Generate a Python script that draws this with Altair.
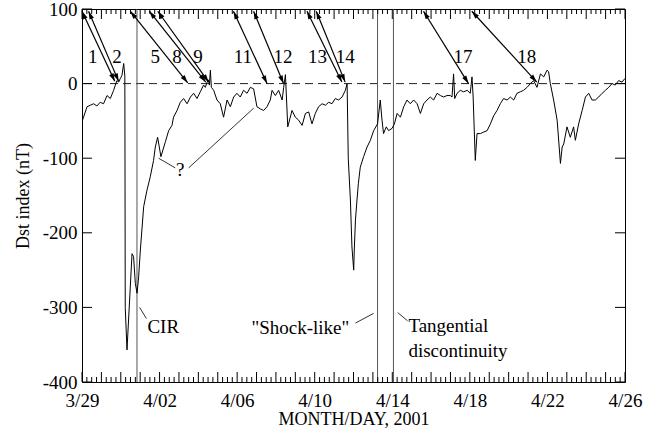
import math
import json
import numpy as np
import pandas as pd
import altair as alt

# ---------------- data ----------------
# time: days since 2001-03-29 00 UT ; Dst in nT
t_day = [0.00, 0.08, 0.26, 0.43, 0.60, 0.77, 0.94, 1.11, 1.29, 1.46, 1.63, 1.72, 1.80, 1.89,
         1.98, 2.06, 2.15, 2.21, 2.23, 2.32, 2.58, 2.66, 2.75, 2.84, 2.92, 3.01, 3.18, 3.35,
         3.52, 3.69, 3.78, 3.90, 4.07, 4.30, 4.47, 4.64, 4.72, 4.90, 5.07, 5.24, 5.42, 5.59,
         5.76, 5.93, 6.10, 6.27, 6.36, 6.45, 6.53, 6.57, 6.62, 6.67, 6.79, 6.96, 7.13, 7.30,
         7.48, 7.65, 7.82, 7.99, 8.16, 8.33, 8.51, 8.68, 8.85, 9.02, 9.20, 9.37, 9.54, 9.71,
         9.80, 9.97, 10.14, 10.32, 10.40, 10.49, 10.61, 10.83, 11.00, 11.17, 11.35, 11.52,
         11.69, 11.86, 12.03, 12.20, 12.38, 12.55, 12.72, 12.89, 13.06, 13.23, 13.41, 13.58,
         13.67, 13.73, 13.84, 13.92, 14.01, 14.04, 14.10, 14.18, 14.25, 14.35, 14.52, 14.70,
         14.87, 15.04, 15.24, 15.38, 15.47, 15.55, 15.69, 15.81, 15.99, 16.11, 16.25, 16.42,
         16.59, 16.76, 16.93, 17.10, 17.28, 17.45, 17.62, 17.79, 17.96, 18.13, 18.31, 18.48,
         18.65, 18.82, 18.99, 19.08, 19.16, 19.22, 19.34, 19.51, 19.68, 19.86, 20.02, 20.11,
         20.17, 20.28, 20.37, 20.54, 20.71, 20.89, 21.06, 21.23, 21.40, 21.57, 21.74, 21.92,
         22.09, 22.26, 22.43, 22.60, 22.77, 22.95, 23.12, 23.29, 23.46, 23.64, 23.81, 23.98,
         24.06, 24.15, 24.32, 24.50, 24.67, 24.76, 24.84, 25.01, 25.18, 25.35, 25.44, 25.61,
         25.79, 25.96, 26.13, 26.30, 26.47, 26.64, 26.82, 26.99, 27.16, 27.33, 27.50, 27.67,
         27.85, 28.00]
dst = [-51, -45, -31, -29, -27, -30, -25, -27, -16, -20, -9, -2, 4, 2,
       7, 11, 27, 10, -300, -357, -228, -232, -268, -281, -259, -223, -165, -143,
       -125, -103, -85, -72, -98, -78, -63, -56, -45, -36, -25, -20, -27, -18,
       -13, -20, -11, -2, -5, 2, 5, -2, 18, -5, -9, -22, -27, -45,
       -22, -31, -18, -13, -18, -9, -13, -5, -7, -31, -34, -36, -31, -22,
       -9, -16, -9, -22, -5, 12, -58, -36, -45, -49, -56, -40,
       -38, -54, -40, -31, -27, -29, -25, -27, -20, -22, -18, -9,
       0, -100, -156, -219, -250, -223, -183, -156, -134, -112, -98, -85,
       -76, -63, -54, -22, -49, -67, -58, -63, -60, -54, -40, -45,
       -31, -22, -27, -22, -27, -40, -27, -22, -18, -22, -13, -16,
       -18, -16, -16, -18, 13, -20, -13, -9, -11, -9, -13, 9,
       -18, -103, -67, -67, -65, -63, -54, -43, -36, -27, -20, -22,
       -18, -22, -13, -11, -9, -5, 0, 4, -5, 13, 9, 18,
       16, 0, -22, -49, -107, -85, -81, -58, -72, -58, -76, -54,
       -36, -18, -13, -22, -22, -18, -13, -9, -5, 0, -2, 4,
       2, 7]

x_tick_days = [0, 4, 8, 12, 16, 20, 24, 28]
x_tick_labels = ["3/29", "4/02", "4/06", "4/10", "4/14", "4/18", "4/22", "4/26"]
y_tick_values = [100, 0, -100, -200, -300, -400]

# numbered double arrows: start at top, end near Dst = 0
arrow_ids = ["1", "2", "5", "8", "9", "11", "12", "13", "14", "17", "18"]
arrow_t0 = [0.00, 0.34, 2.49, 3.47, 3.91, 7.81, 8.85, 11.60, 12.08, 17.61, 20.10]
arrow_y0 = [97, 97, 97, 97, 97, 97, 97, 97, 97, 97, 97]
arrow_t1 = [1.69, 1.89, 5.45, 6.38, 6.53, 9.54, 10.39, 13.40, 13.57, 19.93, 23.45]
arrow_y1 = [3, 3, 1, 2, 2, 0, 0, 2, 2, 0, 2]
arrow_label_t = [0.55, 1.80, 3.78, 4.90, 5.98, 8.30, 10.36, 12.14, 13.57, 19.64, 22.94]
arrow_label_y = [36, 36, 36, 36, 36, 36, 36, 36, 36, 36, 36]

# vertical event lines
event_t = [2.835, 15.24, 16.06]

# annotation texts
note_text = ["?", "CIR", "\"Shock-like\"", "Tangential", "discontinuity"]
note_t = [5.07, 4.19, 11.26, 16.83, 16.83]
note_y = [-116, -326, -328, -325, -358]
note_align = ["center", "center", "center", "left", "left"]

# pointer lines for annotations
ptr_t0 = [4.81, 5.50, 3.32, 14.10, 16.79]
ptr_y0 = [-113, -113, -315, -321, -318]
ptr_t1 = [3.95, 8.85, 2.97, 15.04, 16.28]
ptr_y1 = [-100, -33, -300, -308, -307]

# ---------------- layout ----------------
W, H = 543, 373
X0, X1 = 0, 28
Y0, Y1 = -400, 100
PX_DAY = W / (X1 - X0)
PX_NT = H / (Y1 - Y0)
FONT = "Liberation Serif"

xscale = alt.Scale(domain=[X0, X1], nice=False, zero=False)
yscale = alt.Scale(domain=[Y0, Y1], nice=False, zero=False)

label_expr = json.dumps(x_tick_labels) + "[round(datum.value / 4)]"
xaxis = alt.Axis(values=x_tick_days, labelExpr=label_expr, domain=False, ticks=False,
                 grid=False, labelFont=FONT, labelFontSize=19, labelColor="black",
                 labelPadding=9, title="MONTH/DAY, 2001", titleFont=FONT,
                 titleFontSize=18, titleFontWeight="normal", titleColor="black",
                 titlePadding=0, labelFlush=False)
yaxis = alt.Axis(values=y_tick_values, labelExpr="'' + datum.value", domain=False,
                 ticks=False, grid=False,
                 labelFont=FONT, labelFontSize=19, labelColor="black", labelPadding=5,
                 title="Dst index (nT)", titleFont=FONT, titleFontSize=18,
                 titleFontWeight="normal", titleColor="black", titlePadding=10,
                 labelFlush=False)


def X(f):
    return alt.X(f, type="quantitative", scale=xscale, axis=xaxis)


def Y(f):
    return alt.Y(f, type="quantitative", scale=yscale, axis=yaxis)


series = pd.DataFrame({"t": t_day, "dst": dst})

# tick tables (6-hourly minor, daily major)
minor = pd.DataFrame({"t": [d / 4 for d in range(0, 4 * X1 + 1) if d % 4 != 0]})
major = pd.DataFrame({"t": list(range(X0, X1 + 1))})
yt = pd.DataFrame({"v": y_tick_values})

arr = pd.DataFrame({"id": arrow_ids, "t0": arrow_t0, "y0": arrow_y0,
                    "t1": arrow_t1, "y1": arrow_y1,
                    "lt": arrow_label_t, "ly": arrow_label_y})
ang = []
for a, b, c, d in zip(arrow_t0, arrow_y0, arrow_t1, arrow_y1):
    dx = (c - a) * PX_DAY
    dy = -(d - b) * PX_NT
    ang.append(math.degrees(math.atan2(dx, -dy)) % 360)
heads = pd.DataFrame({
    "t": arrow_t1 + arrow_t0,
    "y": arrow_y1 + arrow_y0,
    "angle": ang + [(a + 180) % 360 for a in ang],
})

ev = pd.DataFrame({"t": event_t})
notes = pd.DataFrame({"txt": note_text, "t": note_t, "y": note_y, "al": note_align})
ptr = pd.DataFrame({"t0": ptr_t0, "y0": ptr_y0, "t1": ptr_t1, "y1": ptr_y1})

base = alt.Chart(series)

line = base.mark_line(color="black", strokeWidth=1, clip=True).encode(
    x=X("t"), y=Y("dst"))

zero = alt.Chart(pd.DataFrame({"v": [0]})).mark_rule(
    color="#222", strokeWidth=1, strokeDash=[8, 5]).encode(y=Y("v"))

events = alt.Chart(ev).mark_rule(color="#555", strokeWidth=1).encode(
    x=X("t"), y=alt.value(0), y2=alt.value(H))

bt_minor = alt.Chart(minor).mark_rule(color="black", strokeWidth=1).encode(
    x=X("t"), y=alt.value(H), y2=alt.value(H - 5))
bt_major = alt.Chart(major).mark_rule(color="black", strokeWidth=1).encode(
    x=X("t"), y=alt.value(H), y2=alt.value(H - 10))
tp_minor = alt.Chart(minor).mark_rule(color="black", strokeWidth=1).encode(
    x=X("t"), y=alt.value(0), y2=alt.value(5))
tp_major = alt.Chart(major).mark_rule(color="black", strokeWidth=1).encode(
    x=X("t"), y=alt.value(0), y2=alt.value(10))
lt = alt.Chart(yt).mark_rule(color="black", strokeWidth=1).encode(
    y=Y("v"), x=alt.value(0), x2=alt.value(10))
rt = alt.Chart(yt).mark_rule(color="black", strokeWidth=1).encode(
    y=Y("v"), x=alt.value(W), x2=alt.value(W - 10))

arrows = alt.Chart(arr).mark_rule(color="black", strokeWidth=1.2).encode(
    x=X("t0"), y=Y("y0"), x2="t1", y2="y1")
arrow_heads = alt.Chart(heads).mark_point(
    shape="M0,0L0.3,1L-0.3,1Z", filled=True, color="black", opacity=1, size=256).encode(
    x=X("t"), y=Y("y"), angle=alt.Angle("angle:Q", scale=None))
arrow_labels = alt.Chart(arr).mark_text(
    font=FONT, fontSize=19, color="black", baseline="middle", align="center").encode(
    x=X("lt"), y=Y("ly"), text="id")

pointers = alt.Chart(ptr).mark_rule(color="black", strokeWidth=0.8).encode(
    x=X("t0"), y=Y("y0"), x2="t1", y2="y1")
note_c = alt.Chart(notes[notes.al == "center"]).mark_text(
    font=FONT, fontSize=19, color="black", baseline="middle", align="center").encode(
    x=X("t"), y=Y("y"), text="txt")
note_l = alt.Chart(notes[notes.al == "left"]).mark_text(
    font=FONT, fontSize=19, color="black", baseline="middle", align="left").encode(
    x=X("t"), y=Y("y"), text="txt")

chart = alt.layer(
    zero, events, line, bt_minor, bt_major, tp_minor, tp_major, lt, rt,
    arrows, arrow_heads, arrow_labels, pointers, note_c, note_l
).properties(
    width=W, height=H,
    padding={"left": 82, "top": 9, "right": 31, "bottom": 49},
    autosize=alt.AutoSizeParams(type="none"),
    background="white",
).configure_view(stroke="black", strokeWidth=1)

chart.save("out.html", embed_options={"renderer": "svg", "actions": False})
